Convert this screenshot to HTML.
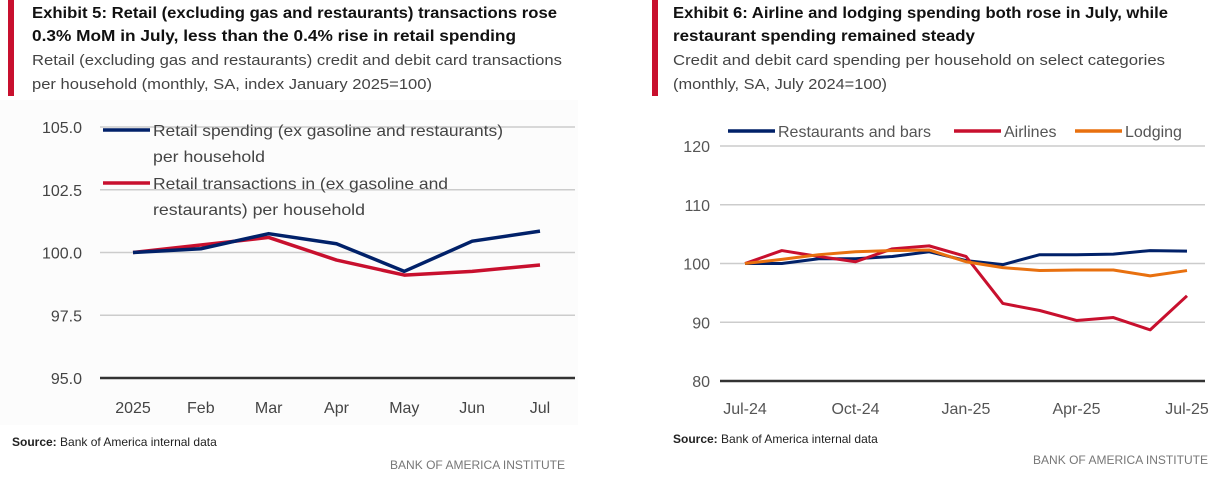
<!DOCTYPE html>
<html><head><meta charset="utf-8"><style>
body{margin:0;background:#fff;width:1216px;height:475px;overflow:hidden}
svg{font-family:"Liberation Sans",sans-serif}
</style></head><body>
<svg id="s" width="1216" height="475" viewBox="0 0 1216 475">
<rect x="8" y="0" width="6" height="96" fill="#c8102e"/>
<rect x="652" y="0" width="6" height="96" fill="#c8102e"/>
<g font-weight="bold" font-size="16" fill="#111">
<text x="32" y="18" textLength="525" lengthAdjust="spacingAndGlyphs">Exhibit 5: Retail (excluding gas and restaurants) transactions rose</text>
<text x="32" y="41" textLength="484" lengthAdjust="spacingAndGlyphs">0.3% MoM in July, less than the 0.4% rise in retail spending</text>
</g>
<g font-size="15" fill="#444">
<text x="32" y="65" textLength="530" lengthAdjust="spacingAndGlyphs">Retail (excluding gas and restaurants) credit and debit card transactions</text>
<text x="32" y="89" textLength="400" lengthAdjust="spacingAndGlyphs">per household (monthly, SA, index January 2025=100)</text>
</g>
<g font-weight="bold" font-size="16" fill="#111">
<text x="673" y="18" textLength="495" lengthAdjust="spacingAndGlyphs">Exhibit 6: Airline and lodging spending both rose in July, while</text>
<text x="673" y="41" textLength="302" lengthAdjust="spacingAndGlyphs">restaurant spending remained steady</text>
</g>
<g font-size="15" fill="#444">
<text x="673" y="65" textLength="492" lengthAdjust="spacingAndGlyphs">Credit and debit card spending per household on select categories</text>
<text x="673" y="89" textLength="214" lengthAdjust="spacingAndGlyphs">(monthly, SA, July 2024=100)</text>
</g>
<rect x="0" y="100" width="578" height="325" fill="#fcfcfc"/>
<g id="left"></g>
<g id="right"></g>
<g font-size="12" fill="#222">
<text x="12" y="446"><tspan font-weight="bold">Source:</tspan> Bank of America internal data</text>
<text x="673" y="443"><tspan font-weight="bold">Source:</tspan> Bank of America internal data</text>
<text x="390" y="469" fill="#777" textLength="175" lengthAdjust="spacingAndGlyphs">BANK OF AMERICA INSTITUTE</text>
<text x="1033" y="464" fill="#777" textLength="175" lengthAdjust="spacingAndGlyphs">BANK OF AMERICA INSTITUTE</text>
</g>
</svg>
<script>
const leftCats=["2025","Feb","Mar","Apr","May","Jun","Jul"];
const leftSpending=[100,100.15,100.75,100.35,99.25,100.45,100.85];
const leftTransactions=[100,100.3,100.6,99.7,99.1,99.25,99.5];
const leftTicks=[95,97.5,100,102.5,105];
const rightCats=["Jul-24","Oct-24","Jan-25","Apr-25","Jul-25"];
const rightRestaurants=[100,100,100.8,100.8,101.2,102,100.5,99.8,101.5,101.5,101.6,102.2,102.1];
const rightAirlines=[100,102.2,101.2,100.3,102.5,103,101.2,93.2,92,90.3,90.8,88.7,94.5];
const rightLodging=[100,100.7,101.5,102,102.2,102.3,100.3,99.3,98.8,98.9,98.9,97.9,98.8];
const rightTicks=[80,90,100,110,120];
const NS="http://www.w3.org/2000/svg";
function mk(p,t,a,txt){const e=document.createElementNS(NS,t);for(const k in a)e.setAttribute(k,a[k]);if(txt!=null)e.textContent=txt;p.appendChild(e);return e;}
// left
(function(){
const g=document.getElementById('left');
const y=v=>378-(v-95)/(105-95)*251, x=i=>133+i*(540-133)/(leftCats.length-1);
leftTicks.forEach(t=>{const l=mk(g,'line',{x1:100,x2:575,y1:y(t),y2:y(t),stroke:t===95?'#333':'#ccc','stroke-width':t===95?2.5:1.5});


const tx=mk(g,'text',{x:82,y:y(t)+6,'text-anchor':'end','font-size':16,fill:'#444'},t.toFixed(1));

});
leftCats.forEach((c,i)=>{const tx=mk(g,'text',{x:x(i),y:413,'text-anchor':'middle','font-size':16,fill:'#444'},c);

});
[[leftTransactions,'#c8102e','left-transactions-line'],[leftSpending,'#012169','left-spending-line']].forEach(([d,c,n])=>{
const p=mk(g,'polyline',{points:d.map((v,i)=>x(i)+','+y(v)).join(' '),fill:'none',stroke:c,'stroke-width':3.5,'stroke-linejoin':'round'});

});
const L=[['#012169',130,['Retail spending (ex gasoline and restaurants)','per household'],[350,112],'legend-spending'],['#c8102e',183,['Retail transactions in (ex gasoline and','restaurants) per household'],[295,212],'legend-transactions']];
L.forEach(([c,yy,ls,lens,n])=>{const lg=mk(g,'g',{});


mk(lg,'line',{x1:103,x2:150,y1:yy,y2:yy,stroke:c,'stroke-width':3.5});
ls.forEach((s,k)=>mk(lg,'text',{x:153,y:yy+6+k*26,'font-size':16,fill:'#444',textLength:lens[k],lengthAdjust:'spacingAndGlyphs'},s));});
})();
// right
(function(){
const g=document.getElementById('right');
const y=v=>381-(v-80)/40*235, x=i=>745+i*(1187-745)/12;
rightTicks.forEach(t=>{const l=mk(g,'line',{x1:720,x2:1205,y1:y(t),y2:y(t),stroke:t===80?'#333':'#ccc','stroke-width':t===80?2.5:1.5});


const tx=mk(g,'text',{x:710,y:y(t)+6,'text-anchor':'end','font-size':16,fill:'#555'},String(t));

});
rightCats.forEach((c,i)=>{const tx=mk(g,'text',{x:x(i*3),y:414,'text-anchor':'middle','font-size':16,fill:'#555'},c);

});
[[rightRestaurants,'#012169','restaurants-line'],[rightAirlines,'#c8102e','airlines-line'],[rightLodging,'#e8700f','lodging-line']].forEach(([d,c,n])=>{
const p=mk(g,'polyline',{points:d.map((v,i)=>x(i)+','+y(v)).join(' '),fill:'none',stroke:c,'stroke-width':3,'stroke-linejoin':'round'});

});
[['#012169',728,'Restaurants and bars','legend-restaurants'],['#c8102e',954,'Airlines','legend-airlines'],['#e8700f',1075,'Lodging','legend-lodging']].forEach(([c,x0,s,n])=>{
const lg=mk(g,'g',{});


mk(lg,'line',{x1:x0,x2:x0+47,y1:131,y2:131,stroke:c,'stroke-width':3.5});
mk(lg,'text',{x:x0+50,y:137,'font-size':16,fill:'#555'},s);});
})();
</script>
</body></html>
